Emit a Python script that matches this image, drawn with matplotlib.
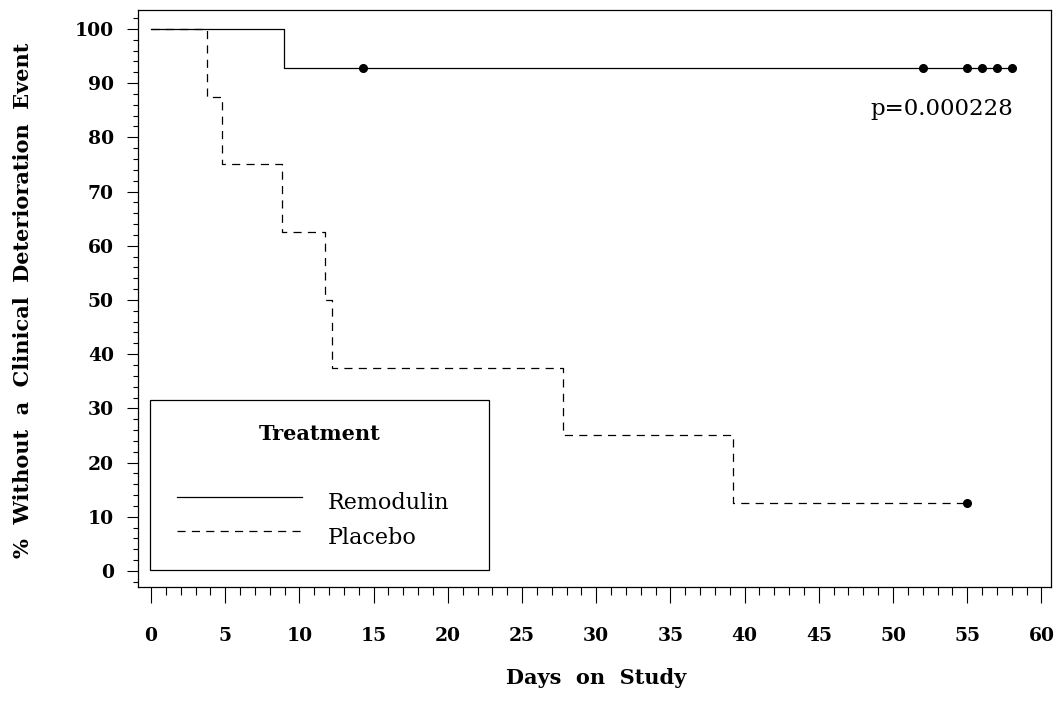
import matplotlib
matplotlib.use("Agg")
import matplotlib.pyplot as plt
from matplotlib.patches import Rectangle
from matplotlib.ticker import MultipleLocator

# DATA (Kaplan-Meier steps)
rem_days = [0, 8.95, 58]
rem_surv = [100, 92.86, 92.86]
rem_cens_days = [14.3, 52, 55, 56, 57, 58]
rem_cens_surv = [92.86] * 6

pla_days = [0, 3.78, 4.77, 8.85, 11.75, 12.2, 27.75, 39.2, 55]
pla_surv = [100, 87.5, 75, 62.5, 50, 37.5, 25, 12.5, 12.5]
pla_cens_days = [55]
pla_cens_surv = [12.5]

x_ticks = list(range(0, 61, 5))
y_ticks = list(range(0, 101, 10))
p_label = "p=0.000228"

plt.rcParams['font.family'] = ['DejaVu Serif']

fig = plt.figure(figsize=(10.58, 7.17), dpi=100)
ax = fig.add_axes([0.130, 0.1813, 0.8637, 0.8041])

dash = (0, (6.5, 5))
ax.step(rem_days, rem_surv, where='post', color='black', lw=0.9)
ax.step(pla_days, pla_surv, where='post', color='black', lw=0.9, linestyle=dash)
ax.plot(rem_cens_days, rem_cens_surv, 'o', color='black', ms=5.5)
ax.plot(pla_cens_days, pla_cens_surv, 'o', color='black', ms=5.5)

ax.set_xlim(-0.91, 60.67)
ax.set_ylim(-2.95, 103.4)

ax.set_xticks(x_ticks)
ax.set_yticks(y_ticks)
ax.xaxis.set_minor_locator(MultipleLocator(1))
ax.yaxis.set_minor_locator(MultipleLocator(2))
ax.tick_params(axis='x', which='major', length=11.5, width=0.8, pad=17,
               labelsize=13.5, direction='out')
ax.tick_params(axis='x', which='minor', length=5.8, width=0.8, direction='out')
ax.tick_params(axis='y', which='major', length=8, width=0.8, pad=9,
               labelsize=13.5, direction='out')
ax.tick_params(axis='y', which='minor', length=3.3, width=0.8, direction='out')
for lab in ax.get_xticklabels() + ax.get_yticklabels():
    lab.set_fontweight('bold')
for sp in ax.spines.values():
    sp.set_linewidth(0.9)

ax.set_xlabel("Days  on  Study", fontsize=15, fontweight='bold')
ax.xaxis.set_label_coords(0.502, -0.158)
ax.xaxis.label.set_va('center')
ax.set_ylabel("%  Without  a  Clinical  Deterioration  Event", fontsize=15,
              fontweight='bold')
ax.yaxis.set_label_coords(-0.125, 0.498)
ax.yaxis.label.set_va('center')

ax.text(58.1, 84.2, p_label, ha='right', va='baseline', fontsize=16.5)

# legend box
ax.add_patch(Rectangle((0.0137, 0.0295), 0.3711, 0.2949, transform=ax.transAxes,
                       fill=False, lw=0.9, ec='black'))
ax.text(0.1998, 0.255, "Treatment", transform=ax.transAxes, ha='center',
        va='baseline', fontsize=15, fontweight='bold')
ax.plot([0.0432, 0.180], [0.156, 0.156], transform=ax.transAxes, color='black', lw=0.9)
ax.plot([0.0432, 0.180], [0.0971, 0.0971], transform=ax.transAxes, color='black',
        lw=0.9, linestyle=dash)
ax.text(0.2085, 0.1353, "Remodulin", transform=ax.transAxes, va='baseline', fontsize=16)
ax.text(0.2085, 0.0746, "Placebo", transform=ax.transAxes, va='baseline', fontsize=16)

fig.savefig("out.png", dpi=100)
